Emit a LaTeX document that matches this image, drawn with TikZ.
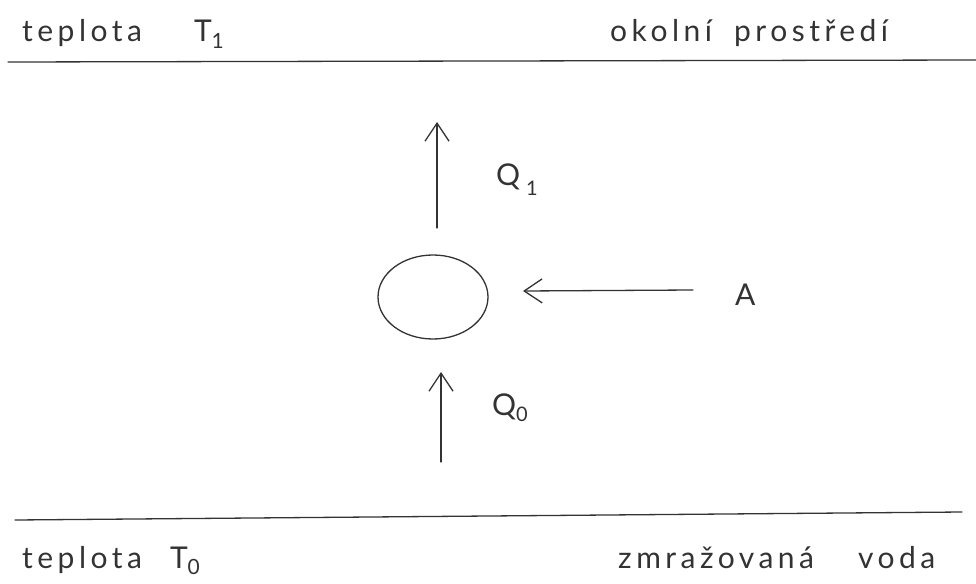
\documentclass[tikz,border=0pt]{standalone}
\usepackage{fontspec}
\setmainfont{Lato}
\usetikzlibrary{arrows.meta,shapes.geometric}
\definecolor{inkc}{HTML}{333333}
\begin{document}
\begin{tikzpicture}[x=1pt,y=-1pt,
  ink/.style={draw=inkc, line width=1.3pt, line cap=round},
  lbl/.style={text=inkc, font=\fontsize{30}{34}\selectfont\addfontfeature{LetterSpace=15}, inner sep=0pt},
  arr/.style={ink, -{Straight Barb[length=18pt,width=24pt,line width=1.3pt]}},
  body/.style={ink, ellipse, minimum width=110pt, minimum height=84pt, inner sep=0pt}
]
\useasboundingbox (0,0) rectangle (976,583);
\fill[white] (0,0) rectangle (976,583);
% boundary lines
\coordinate (tl) at (8,62);
\coordinate (tr) at (976,60);
\coordinate (bl) at (15,520);
\coordinate (br) at (962,512);
\draw[ink] (tl) -- (tr);
\draw[ink] (bl) -- (br);
% labels
\node[lbl, anchor=base west] (t1) at (22,42) {teplota\hspace{52pt}T\textsubscript{1}};
\node[lbl, anchor=base west] (env) at (610,42) {okolní\hspace{22pt}prostředí};
\node[lbl, anchor=base west] (t0) at (22,568) {teplota\hspace{28pt}T\textsubscript{0}};
\node[lbl, anchor=base west] (water) at (618,568) {zmražovaná\hspace{44pt}voda};
% body
\node[body] (c) at (433,297) {};
% arrows
\coordinate (q1s) at (437,228);
\coordinate (q1e) at (437,122);
\draw[arr] (q1s) -- (q1e);
\node[lbl, anchor=base west] (q1) at (496,185) {Q\hspace{6pt}\raisebox{-10pt}{\fontsize{20}{20}\selectfont 1}};
\coordinate (q0s) at (441,462);
\coordinate (q0e) at (441,372);
\draw[arr] (q0s) -- (q0e);
\node[lbl, anchor=base west] (q0) at (492,415) {Q\raisebox{-6pt}{\fontsize{20}{20}\selectfont 0}};
\coordinate (as) at (693,290);
\coordinate (ae) at (523,291);
\draw[arr] (as) -- (ae);
\node[lbl, anchor=base west] (A) at (735,305) {A};
\end{tikzpicture}
\end{document}
